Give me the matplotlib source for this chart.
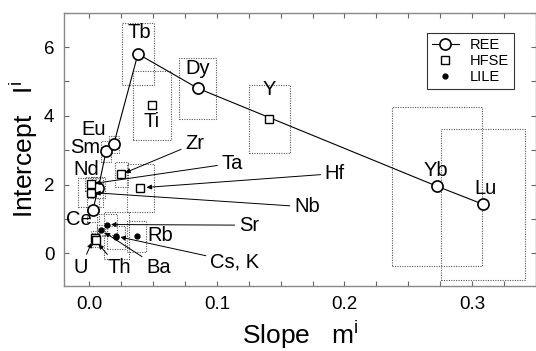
import matplotlib
matplotlib.use("Agg")
import matplotlib.pyplot as plt
from matplotlib.patches import Rectangle
from matplotlib.ticker import MultipleLocator, FormatStrFormatter

plt.rcParams['font.family'] = ['Liberation Sans', 'DejaVu Sans']

# REE (rare earth elements), joined by a line
ree_names = ["Ce", "Nd", "Sm", "Eu", "Tb", "Dy", "Yb", "Lu"]
ree_slope = [0.0027, 0.0070, 0.0130, 0.0190, 0.0380, 0.0850, 0.2727, 0.3086]
ree_icpt = [1.27, 1.91, 2.97, 3.17, 5.80, 4.80, 1.95, 1.43]
ree_dx = [0.005, 0.005, 0.004, 0.004, 0.0128, 0.0144, 0.0351, 0.0332]
ree_dy = [0.35, 0.30, 0.30, 0.25, 0.89, 0.89, 2.32, 2.20]

# HFSE
hfse_names = ["Ti", "Y", "Zr", "Hf", "Ta", "Nb", "U", "Th"]
hfse_slope = [0.049, 0.141, 0.025, 0.040, 0.0008, 0.0008, 0.004, 0.005]
hfse_icpt = [4.30, 3.91, 2.30, 1.91, 2.02, 1.77, 0.46, 0.40]
hfse_dx = [0.0151, 0.0159, 0.0053, 0.0106, 0.004, 0.010, 0.003, 0.003]
hfse_dy = [1.00, 1.00, 0.36, 0.70, 0.20, 0.42, 0.20, 0.20]

# LILE
lile_names = ["Sr", "Ba", "Cs", "K", "Rb"]
lile_slope = [0.0136, 0.0092, 0.021, 0.021, 0.037]
lile_icpt = [0.84, 0.67, 0.52, 0.47, 0.50]
lile_dx = [0.008, 0.003, 0.0098, 0.007, 0.0075]
lile_dy = [0.30, 0.15, 0.68, 0.34, 0.45]

fig = plt.figure(figsize=(5.36, 3.51), dpi=100)
ax = fig.add_axes([0.1194, 0.185, 0.8800, 0.779])

# dotted uncertainty boxes
for xs, ys, dxs, dys in [(ree_slope, ree_icpt, ree_dx, ree_dy),
                         (hfse_slope, hfse_icpt, hfse_dx, hfse_dy),
                         (lile_slope, lile_icpt, lile_dx, lile_dy)]:
    for x, y, dx, dy in zip(xs, ys, dxs, dys):
        ax.add_patch(Rectangle((x - dx, y - dy), 2 * dx, 2 * dy, fill=False,
                               ls=(0, (1, 1.2)), lw=0.8, ec="#555555", zorder=1))

ax.plot(ree_slope, ree_icpt, "-o", color="k", lw=0.8, ms=8, mfc="white",
        mec="k", mew=1.2, label="REE", zorder=4)
ax.plot(hfse_slope, hfse_icpt, "s", color="k", ms=5.5, mfc="white",
        mec="k", mew=1.0, ls="none", label="HFSE", zorder=4)
ax.plot(lile_slope, lile_icpt, "o", color="k", ms=3.5, ls="none",
        label="LILE", zorder=4)

fs = 14.5
# labels without arrows
plain = {"Tb": (0.039, 6.41), "Dy": (0.085, 5.37), "Y": (0.141, 4.76),
         "Ti": (0.049, 3.83), "Eu": (0.0035, 3.60), "Sm": (-0.0034, 3.08),
         "Nd": (-0.0028, 2.45), "Ce": (-0.008, 0.98), "Rb": (0.0557, 0.53),
         "Yb": (0.272, 2.41), "Lu": (0.311, 1.89)}
for name, (tx, ty) in plain.items():
    ax.text(tx, ty, name, fontsize=fs, ha="center", va="center", zorder=5)

# labels with arrows: text position, target point
arrowed = [("Zr", (0.0825, 3.19), (0.025, 2.30)),
           ("Ta", (0.112, 2.62), (0.0012, 2.02)),
           ("Hf", (0.1925, 2.32), (0.0415, 1.91)),
           ("Nb", (0.1705, 1.35), (0.0012, 1.77)),
           ("Sr", (0.125, 0.82), (0.0136, 0.84)),
           ("Cs, K", (0.1138, -0.25), (0.021, 0.50)),
           ("Ba", (0.054, -0.40), (0.0092, 0.67)),
           ("Th", (0.023, -0.42), (0.005, 0.36)),
           ("U", (-0.007, -0.42), (0.003, 0.42))]
for name, (tx, ty), (px, py) in arrowed:
    ax.annotate(name, xy=(px, py), xytext=(tx, ty), fontsize=fs,
                ha="center", va="center", zorder=5,
                arrowprops=dict(arrowstyle="-|>", lw=0.7, color="k",
                                mutation_scale=7, shrinkA=1, shrinkB=3))

ax.set_xlim(-0.02, 0.35)
ax.set_ylim(-0.95, 7.0)
ax.xaxis.set_major_locator(MultipleLocator(0.1))
ax.xaxis.set_minor_locator(MultipleLocator(0.025))
ax.xaxis.set_major_formatter(FormatStrFormatter("%.1f"))
ax.yaxis.set_major_locator(MultipleLocator(2))
ax.yaxis.set_minor_locator(MultipleLocator(1))
ax.tick_params(which="both", direction="in", top=True, right=True,
               length=3.5, width=0.8, color="#666666", labelsize=13.5, pad=7)
for s in ax.spines.values():
    s.set_color("#888888")
    s.set_linewidth(1.0)

ax.set_xlabel("Slope   m$^\\mathregular{i}$", fontsize=19, labelpad=4)
ax.set_ylabel("Intercept   I$^\\mathregular{i}$", fontsize=19, labelpad=3)

leg = ax.legend(loc="upper right", bbox_to_anchor=(0.955, 0.926), fontsize=10.5,
                frameon=True, fancybox=False, edgecolor="k", handlelength=1.8,
                borderpad=0.35, labelspacing=0.15, handletextpad=0.8,
                borderaxespad=0)
leg.get_frame().set_linewidth(0.8)

fig.savefig("out.png", dpi=100)
